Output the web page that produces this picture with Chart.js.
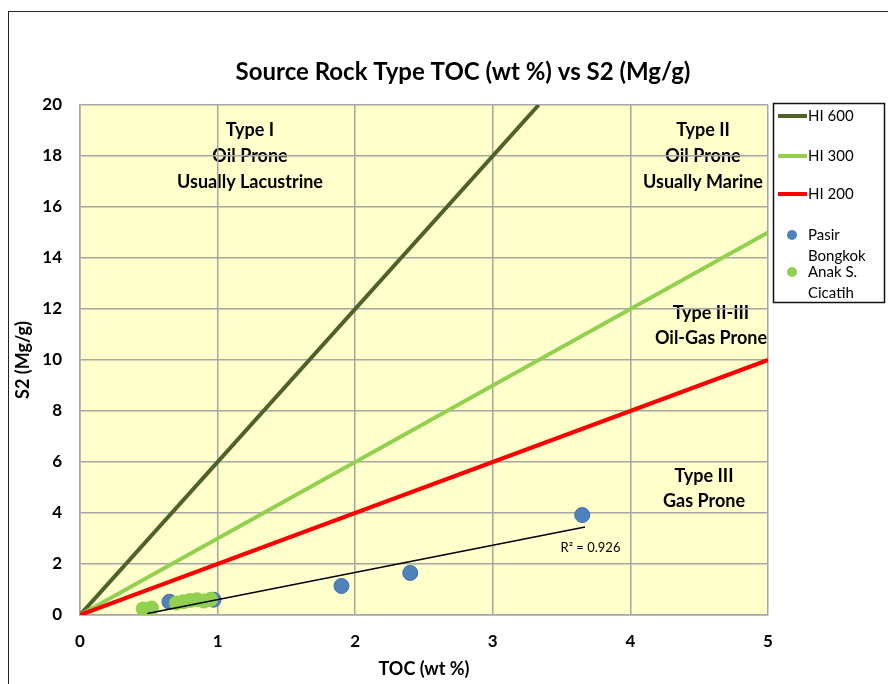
<!DOCTYPE html>
<html>
<head>
<meta charset="utf-8">
<script src="https://cdn.jsdelivr.net/npm/chart.js@4.4.1/dist/chart.umd.min.js"></script>
<style>
  html, body { margin: 0; padding: 0; background: #fff; }
  #wrap { position: relative; width: 888px; height: 684px; }
  #frame { position: absolute; left: 8px; top: 11px; width: 900px; height: 700px;
           border-left: 1.5px solid #222; border-top: 1.5px solid #222; }
  canvas { position: absolute; left: 0; top: 0; }
</style>
</head>
<body>
<div id="wrap">
  <div id="frame"></div>
  <canvas id="chart" width="888" height="684"></canvas>
</div>
<script>
// Source rock type, TOC vs S2
const hiLabels = ['HI 600', 'HI 300', 'HI 200'];
const hi600 = [{ x: 0, y: 0 }, { x: 3.333, y: 20 }];
const hi300 = [{ x: 0, y: 0 }, { x: 5, y: 15 }];
const hi200 = [{ x: 0, y: 0 }, { x: 5, y: 10 }];

const pasirToc = [0.48, 0.65, 0.97, 1.9, 2.4, 3.65];
const pasirS2 = [0.12, 0.52, 0.6, 1.14, 1.65, 3.92];

const anakToc = [0.46, 0.52, 0.7, 0.75, 0.8, 0.85, 0.9, 0.95];
const anakS2 = [0.24, 0.27, 0.47, 0.52, 0.57, 0.6, 0.55, 0.62];

// trendline for Pasir Bongkok
const trendToc = [0.49, 3.67];
const trendS2 = [0.06, 3.45];
const trendLabel = 'R\u00b2 = 0.926';

const xTicks = [0, 1, 2, 3, 4, 5];
const yTicks = [0, 2, 4, 6, 8, 10, 12, 14, 16, 18, 20];

const FONT = 'Lato, "Open Sans", sans-serif';
const INK = '#000';
const toPoints = (xs, ys) => xs.map((x, i) => ({ x: x, y: ys[i] }));

// plot background and zone labels, drawn under the grid
const backdrop = {
    id: 'backdrop',
    beforeDraw(chart) {
        const { ctx, chartArea: a, scales } = chart;
        ctx.save();
        ctx.fillStyle = '#ffffcc';
        ctx.fillRect(a.left, a.top, a.right - a.left, a.bottom - a.top);

        // title
        ctx.fillStyle = INK;
        ctx.textAlign = 'center';
        ctx.textBaseline = 'middle';
        ctx.font = 'bold 24px ' + FONT;
        ctx.fillText('Source Rock Type TOC (wt %) vs S2 (Mg/g)', 463, 72);

        ctx.font = 'bold 18px ' + FONT;
        const zone = (lines, x, y0, step) => {
            lines.forEach((t, i) => ctx.fillText(t, x, y0 + i * step));
        };
        zone(['Type I', 'Oil Prone', 'Usually Lacustrine'], 250, 130, 26);
        zone(['Type II', 'Oil Prone', 'Usually Marine'], 703, 130, 26);
        zone(['Type II-III', 'Oil-Gas Prone'], 711, 313, 25);
        zone(['Type III', 'Gas Prone'], 704, 476, 25);

        ctx.font = '13px ' + FONT;
        ctx.fillText(trendLabel, scales.x.getPixelForValue(3.71), scales.y.getPixelForValue(2.65));
        ctx.restore();
    },
    afterDraw(chart) {
        // legend box
        const { ctx } = chart;
        ctx.save();
        ctx.strokeStyle = '#111';
        ctx.lineWidth = 1.5;
        ctx.strokeRect(773.5, 103.5, 111, 199);
        ctx.textBaseline = 'middle';
        ctx.textAlign = 'left';
        ctx.font = '15px ' + FONT;
        const ds = chart.data.datasets;
        const rows = [116, 156, 194];
        for (let i = 0; i < 3; i++) {
            ctx.strokeStyle = ds[i].borderColor;
            ctx.lineWidth = 4;
            ctx.beginPath();
            ctx.moveTo(778, rows[i]);
            ctx.lineTo(807, rows[i]);
            ctx.stroke();
            ctx.fillStyle = INK;
            ctx.fillText(ds[i].label, 808, rows[i]);
        }
        const marks = [[3, 235, ['Pasir', 'Bongkok']], [4, 272, ['Anak S.', 'Cicatih']]];
        marks.forEach(([k, y, lines]) => {
            ctx.fillStyle = ds[k].backgroundColor;
            ctx.beginPath();
            ctx.arc(792, y, 5, 0, Math.PI * 2);
            ctx.fill();
            ctx.fillStyle = INK;
            lines.forEach((t, j) => ctx.fillText(t, 808, y + j * 21));
        });
        ctx.restore();
    }
};

new Chart(document.getElementById('chart'), {
    type: 'scatter',
    data: {
        datasets: [
            { label: hiLabels[0], type: 'line', data: hi600, borderColor: '#4f6228', borderWidth: 4,
              pointRadius: 0, fill: false, order: 5 },
            { label: hiLabels[1], type: 'line', data: hi300, borderColor: '#92d050', borderWidth: 4,
              pointRadius: 0, fill: false, order: 4 },
            { label: hiLabels[2], type: 'line', data: hi200, borderColor: '#ff0000', borderWidth: 4,
              pointRadius: 0, fill: false, order: 3 },
            { label: 'Pasir Bongkok', data: toPoints(pasirToc, pasirS2), backgroundColor: '#4f81bd',
              borderColor: '#3f6ea8', borderWidth: 1, pointRadius: 7.5, order: 2 },
            { label: 'Anak S. Cicatih', data: toPoints(anakToc, anakS2), backgroundColor: '#92d050',
              borderColor: '#92d050', borderWidth: 0, pointRadius: 7.5, order: 1 },
            { label: 'Trend', type: 'line', data: toPoints(trendToc, trendS2), borderColor: '#000',
              borderWidth: 1.5, pointRadius: 0, fill: false, order: 0 }
        ]
    },
    options: {
        responsive: false,
        animation: false,
        layout: { padding: { left: 0, top: 105, right: 120, bottom: 0 } },
        plugins: { legend: { display: false }, title: { display: false }, tooltip: { enabled: false } },
        scales: {
            x: {
                type: 'linear', min: 0, max: 5,
                afterFit: s => { s.height = 69; },
                afterBuildTicks: s => { s.ticks = xTicks.map(v => ({ value: v })); },
                grid: { color: '#a6a6a6', lineWidth: 1.5, drawTicks: false },
                border: { color: '#a6a6a6', width: 1.5 },
                ticks: { color: INK, padding: 16, font: { family: FONT, size: 17, weight: 'bold' } },
                title: { display: true, text: 'TOC (wt %)', color: INK, padding: { top: 0, bottom: 4 },
                         font: { family: FONT, size: 18, weight: 'bold' } }
            },
            y: {
                type: 'linear', min: 0, max: 20,
                afterFit: s => { s.width = 80; },
                afterBuildTicks: s => { s.ticks = yTicks.map(v => ({ value: v })); },
                grid: { color: '#a6a6a6', lineWidth: 1.5, drawTicks: false },
                border: { color: '#a6a6a6', width: 1.5 },
                ticks: { color: INK, padding: 18, font: { family: FONT, size: 17, weight: 'bold' } },
                title: { display: true, text: 'S2 (Mg/g)', color: INK, padding: { top: 12, bottom: 0 },
                         font: { family: FONT, size: 18, weight: 'bold' } }
            }
        }
    },
    plugins: [backdrop]
});
</script>
</body>
</html>
